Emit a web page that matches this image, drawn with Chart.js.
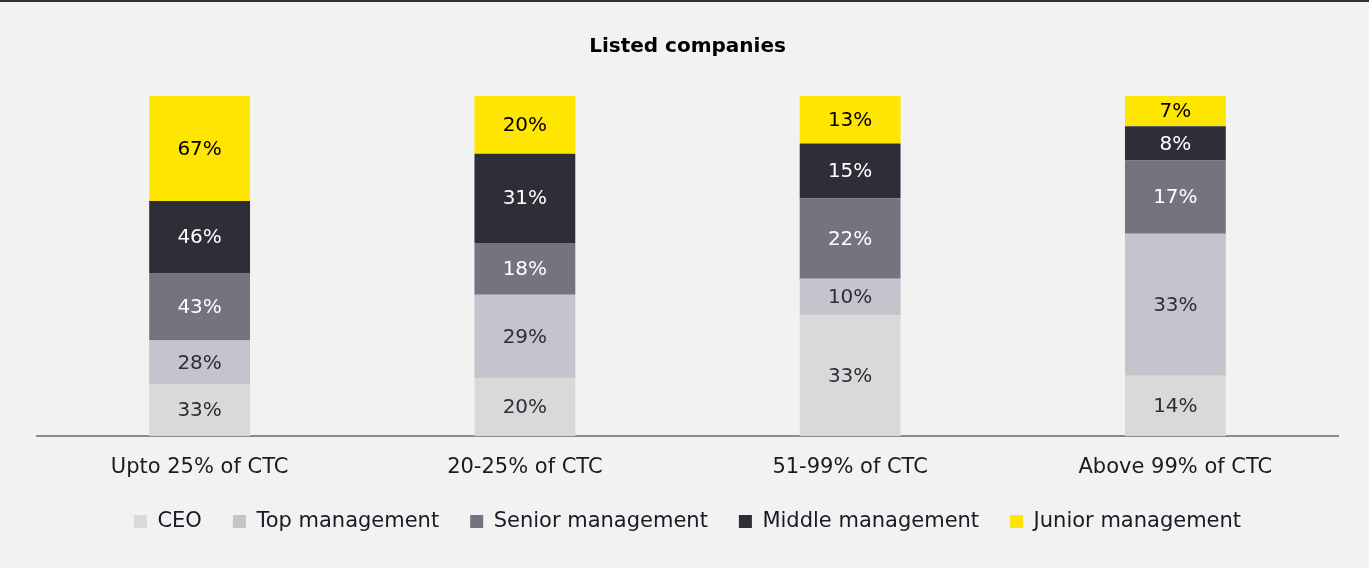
<!DOCTYPE html>
<html>
<head>
<meta charset="utf-8">
<script src="https://cdn.jsdelivr.net/npm/chart.js@4"></script>
<style>
  html, body { margin: 0; padding: 0; background: #f2f2f2; }
  body { border-top: 2px solid #2e2e38; }
  .wrap { width: 1369px; height: 566px; }
</style>
</head>
<body>
<div class="wrap"><canvas id="myChart"></canvas></div>
<script>
const categories = ["Upto 25% of CTC", "20-25% of CTC", "51-99% of CTC", "Above 99% of CTC"];
const ceo = [33, 20, 33, 14];
const topMgmt = [28, 29, 10, 33];
const seniorMgmt = [43, 18, 22, 17];
const middleMgmt = [46, 31, 15, 8];
const juniorMgmt = [67, 20, 13, 7];

const FONT = "'DejaVu Sans', sans-serif";
const series = [
  { label: "CEO", raw: ceo, color: "#d9d9d9", text: "#2e2e38" },
  { label: "Top management", raw: topMgmt, color: "#c4c4cd", text: "#2e2e38" },
  { label: "Senior management", raw: seniorMgmt, color: "#747480", text: "#ffffff" },
  { label: "Middle management", raw: middleMgmt, color: "#2e2e38", text: "#ffffff" },
  { label: "Junior management", raw: juniorMgmt, color: "#ffe600", text: "#000000" },
];

// each column is drawn as 100% stacked
const totals = categories.map((c, i) => series.reduce((s, d) => s + d.raw[i], 0));

// value labels inside the segments
const segLabels = {
  id: "segLabels",
  afterDatasetsDraw(chart) {
    const ctx = chart.ctx;
    ctx.save();
    ctx.font = "20px " + FONT;
    ctx.textAlign = "center";
    ctx.textBaseline = "middle";
    chart.data.datasets.forEach((ds, di) => {
      chart.getDatasetMeta(di).data.forEach((bar, i) => {
        const mid = (bar.y + bar.base) / 2;
        ctx.fillStyle = ds.textColor;
        ctx.fillText(ds.raw[i] + "%", bar.x, mid + 1);
      });
    });
    ctx.restore();
  }
};

const ctx = document.getElementById("myChart");

new Chart(ctx, {
  type: "bar",
  data: {
    labels: categories,
    datasets: series.map((s) => ({
      label: s.label,
      raw: s.raw,
      textColor: s.text,
      data: s.raw.map((v, i) => v / totals[i] * 100),
      backgroundColor: s.color,
      borderWidth: 0,
      barPercentage: 0.62,
      categoryPercentage: 0.5,
    }))
  },
  options: {
    responsive: true,
    maintainAspectRatio: false,
    animation: false,
    layout: { padding: { left: 37, right: 31, top: 0, bottom: 26 } },
    plugins: {
      title: {
        display: true,
        text: "Listed companies",
        color: "#000",
        font: { family: FONT, size: 20, weight: "bold" },
        padding: { top: 33, bottom: 37 }
      },
      legend: {
        position: "bottom",
        labels: {
          color: "#1a1a24",
          font: { family: FONT, size: 21 },
          boxWidth: 13,
          boxHeight: 13,
          padding: 31
        }
      },
      tooltip: { enabled: false }
    },
    scales: {
      x: {
        stacked: true,
        grid: { display: false, drawTicks: false },
        border: { color: "#8c8c8c", width: 2 },
        ticks: { color: "#1a1a24", font: { family: FONT, size: 21 }, padding: 19 },
        afterFit: (scale) => { scale.height = 44; }
      },
      y: {
        stacked: true,
        display: false,
        min: 0,
        max: 100
      }
    }
  },
  plugins: [segLabels]
});
</script>
</body>
</html>
